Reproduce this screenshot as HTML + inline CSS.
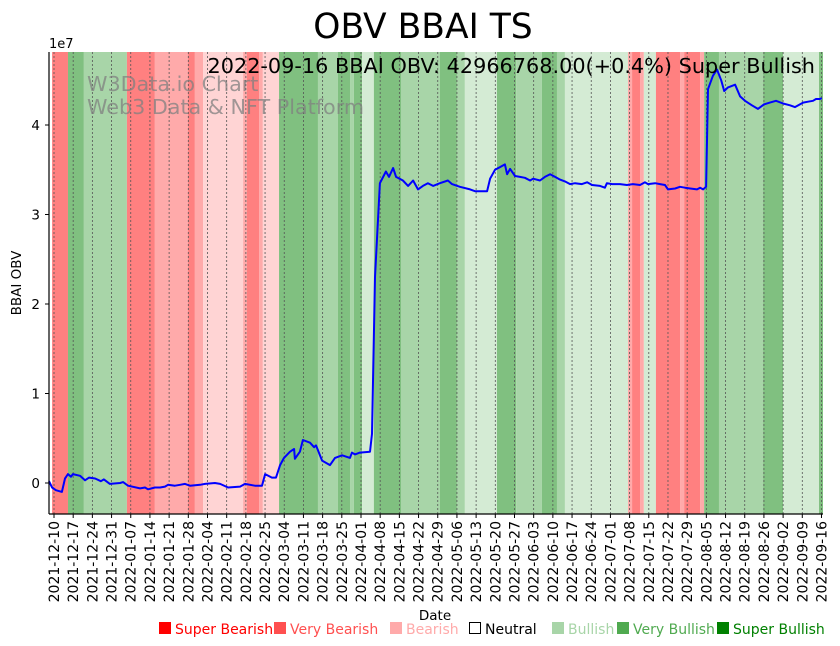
<!DOCTYPE html>
<html><head><meta charset="utf-8"><style>
body{margin:0;background:#fff;}
svg{display:block;font-family:"DejaVu Sans","Liberation Sans",sans-serif;}
</style></head><body>
<svg id="chart" width="840" height="646" viewBox="0 0 840 646" xmlns="http://www.w3.org/2000/svg">
<text x="423" y="38" font-size="34.5" text-anchor="middle">OBV BBAI TS</text>
<g id="bands"></g>
<g id="grid"></g>
<g id="series"></g>
<g id="axes"></g>
<text x="87" y="91" font-size="20.7" fill="#808080" fill-opacity="0.75">W3Data.io Chart</text>
<text x="87" y="114" font-size="20.7" fill="#808080" fill-opacity="0.75">Web3 Data &amp; NFT Platform</text>
<text x="815" y="73" font-size="20.8" text-anchor="end">2022-09-16 BBAI OBV: 42966768.00(+0.4%) Super Bullish</text>
<text x="49" y="48" font-size="13">1e7</text>
<text transform="translate(21,283) rotate(-90)" font-size="13.5" text-anchor="middle">BBAI OBV</text>
<text x="435" y="620" font-size="13.5" text-anchor="middle">Date</text>
<g id="legend"></g>
</svg>
<script>
const startDate = Date.UTC(2021, 11, 10);
const tickCount = 41;
const yTicks = [0, 1, 2, 3, 4];
const bandStarts = [-0.7,5.1,10.9,26.6,36.8,48.9,51.4,54.4,69.0,70.4,74.8,76.2,82.1,96.3,103.6,108.0,109.4,112.4,116.7,126.6,140.8,147.0,149.9,161.6,168.6,178.0,183.5,186.4,209.4,210.9,213.8,215.2,219.6,228.4,229.9,235.7,237.2,242.6,258.7,266.0,279.1];
const bandEnds = [5.1,10.9,26.6,36.8,48.9,51.4,54.4,69.0,70.4,74.8,76.2,82.1,96.3,103.6,108.0,109.4,112.4,116.7,126.6,140.8,147.0,149.9,161.6,168.6,178.0,183.5,186.4,209.4,210.9,213.8,215.2,219.6,228.4,229.9,235.7,237.2,242.6,258.7,266.0,279.1,280.6];
const bandSignals = ["SB","SBu","VBu","SB","VB","SB","VB","B","VB","SB","VB","B","SBu","VBu","SBu","VBu","SBu","Bu","SBu","VBu","SBu","VBu","Bu","SBu","VBu","SBu","VBu","Bu","VB","SB","VB","Bu","SB","VB","SB","VB","SBu","VBu","SBu","Bu","SBu"];
const obvDays = [-2.2,-0.7,0.7,2.9,4.0,5.1,6.2,6.9,9.5,11.3,12.8,15.0,17.1,18.2,20.4,24.1,25.2,27.0,31.4,33.2,34.3,36.8,38.7,40.5,41.6,44.1,46.0,47.8,49.6,53.3,55.1,58.7,60.6,63.5,67.9,69.7,73.3,75.9,77.0,79.5,81.0,82.5,83.9,86.1,87.6,87.9,89.7,90.8,93.4,94.9,95.6,97.8,100.7,102.5,105.1,108.0,108.7,109.8,111.6,115.3,116.0,117.1,118.9,121.1,122.2,123.7,124.8,127.3,129.2,131.0,132.8,134.6,136.4,138.3,140.8,143.7,145.2,148.1,151.8,153.6,155.4,158.0,159.1,160.9,162.7,164.5,165.3,166.4,168.2,170.0,171.8,173.7,174.8,177.3,179.1,181.0,182.8,184.6,186.4,188.3,190.1,192.6,194.5,196.3,199.2,201.0,201.7,203.6,206.5,209.0,211.2,213.8,215.6,216.7,219.3,221.1,222.9,224.0,226.6,228.4,230.2,232.1,234.6,235.7,236.8,237.9,238.6,240.4,241.9,243.4,244.5,245.9,248.5,250.3,252.1,254.6,256.8,259.0,261.2,263.4,266.0,268.5,270.3,273.3,275.1,276.9,278.0,279.4,280.1];
const obvValues = [0.2,-0.5,-0.8,-1.0,0.5,1.0,0.7,1.0,0.8,0.3,0.6,0.5,0.2,0.4,-0.1,0.0,0.1,-0.3,-0.6,-0.5,-0.7,-0.5,-0.5,-0.4,-0.2,-0.3,-0.2,-0.1,-0.3,-0.2,-0.1,0.0,-0.1,-0.5,-0.4,-0.1,-0.3,-0.3,1.0,0.6,0.6,2.0,2.8,3.5,3.8,2.7,3.5,4.8,4.5,4.0,4.2,2.5,2.0,2.8,3.1,2.8,3.4,3.2,3.4,3.5,5.5,23,33.5,34.8,34.2,35.2,34.2,33.8,33.2,33.8,32.8,33.2,33.5,33.2,33.5,33.8,33.4,33.1,32.8,32.6,32.6,32.6,34,35,35.3,35.6,34.5,35.1,34.3,34.2,34.1,33.8,34.0,33.8,34.2,34.5,34.2,33.9,33.7,33.4,33.5,33.4,33.6,33.3,33.2,33.0,33.5,33.4,33.4,33.3,33.4,33.3,33.6,33.4,33.5,33.4,33.3,32.8,32.9,33.1,33.0,32.9,32.8,33.0,32.8,33.1,44,45.5,46.2,45,43.8,44.2,44.5,43.2,42.7,42.2,41.8,42.3,42.5,42.7,42.4,42.2,42.0,42.5,42.6,42.7,42.9,42.9,43.0];
const legendLabels = ["Super Bearish","Very Bearish","Bearish","Neutral","Bullish","Very Bullish","Super Bullish"];

const NS = "http://www.w3.org/2000/svg";
const PL = 49, PR = 823, PT = 52, PB = 514;
const X0 = 54, PXD = 2.741;
function xs(d){ return X0 + d * PXD; }
function ys(v){ return 483 - v * 8.95; }
const bandColor = {SB:"#ff8080",VB:"#ffaaaa",B:"#ffd4d4",N:"none",Bu:"#d4ebd4",VBu:"#a8d5a8",SBu:"#80c080"};
function mk(tag, attrs, parent){ const e=document.createElementNS(NS,tag); for(const k in attrs) e.setAttribute(k,attrs[k]); parent.appendChild(e); return e; }

const gB = document.getElementById('bands');
bandStarts.forEach((s,i)=>{
  const x1 = Math.max(PL, xs(s)), x2 = Math.min(PR, xs(bandEnds[i]));
  const r = mk('rect',{x:x1,y:PT,width:Math.max(0,x2-x1),height:PB-PT,fill:bandColor[bandSignals[i]]},gB);
  
  
});

const gG = document.getElementById('grid');
const gA = document.getElementById('axes');
for(let i=0;i<tickCount;i++){
  const x = xs(i*7);
  const l = mk('line',{x1:x,x2:x,y1:PT,y2:PB,stroke:"#555",'stroke-width':0.8,'stroke-dasharray':"2,2"},gG);
  
  
  const t = mk('line',{x1:x,x2:x,y1:PB,y2:PB+4,stroke:"#000",'stroke-width':1},gA);
  
  
  const d = new Date(startDate + i*7*86400000).toISOString().slice(0,10);
  const tx = mk('text',{transform:`translate(${x+5},${PB+7}) rotate(-90)`,'font-size':14,'text-anchor':'end'},gA);
  tx.textContent = d;
  
  
}
yTicks.forEach(v=>{
  const y = ys(v*10);
  const t = mk('line',{x1:PL-4,x2:PL,y1:y,y2:y,stroke:"#000"},gA);
  
  
  const tx = mk('text',{x:PL-9,y:y+5,'font-size':13.5,'text-anchor':'end'},gA);
  tx.textContent = v;
  
  
});
const sl = mk('line',{x1:PL,x2:PL,y1:PT,y2:PB,stroke:"#000",'stroke-width':1.2},gA);


const sb = mk('line',{x1:PL,x2:PR,y1:PB,y2:PB,stroke:"#000",'stroke-width':1.2},gA);



const pts = obvDays.map((d,i)=>`${Math.max(PL,xs(d)).toFixed(1)},${ys(obvValues[i]).toFixed(1)}`).join(' ');
const pl = mk('polyline',{points:pts,fill:'none',stroke:'#0000ff','stroke-width':2,'stroke-linejoin':'round'},document.getElementById('series'));



const gL = document.getElementById('legend');
const legCol = ["#ff0000","#ff5050","#ffaaaa","#000","#a8d5a8","#50aa50","#008000"];
const legBoxX = [158,273,389,468,551,616,716];
legendLabels.forEach((lab,i)=>{
  const x = legBoxX[i];
  const g = mk('g',{},gL);
  
  
  if(i===3) mk('rect',{x:x+1.5,y:622.5,width:11,height:11,fill:'none',stroke:'#000'},g);
  else mk('rect',{x:x+1,y:622,width:12,height:12,fill:legCol[i]},g);
  const t = mk('text',{x:x+17,y:634,'font-size':14,fill:legCol[i]},g);
  t.textContent = lab;
});
</script>
</body></html>
